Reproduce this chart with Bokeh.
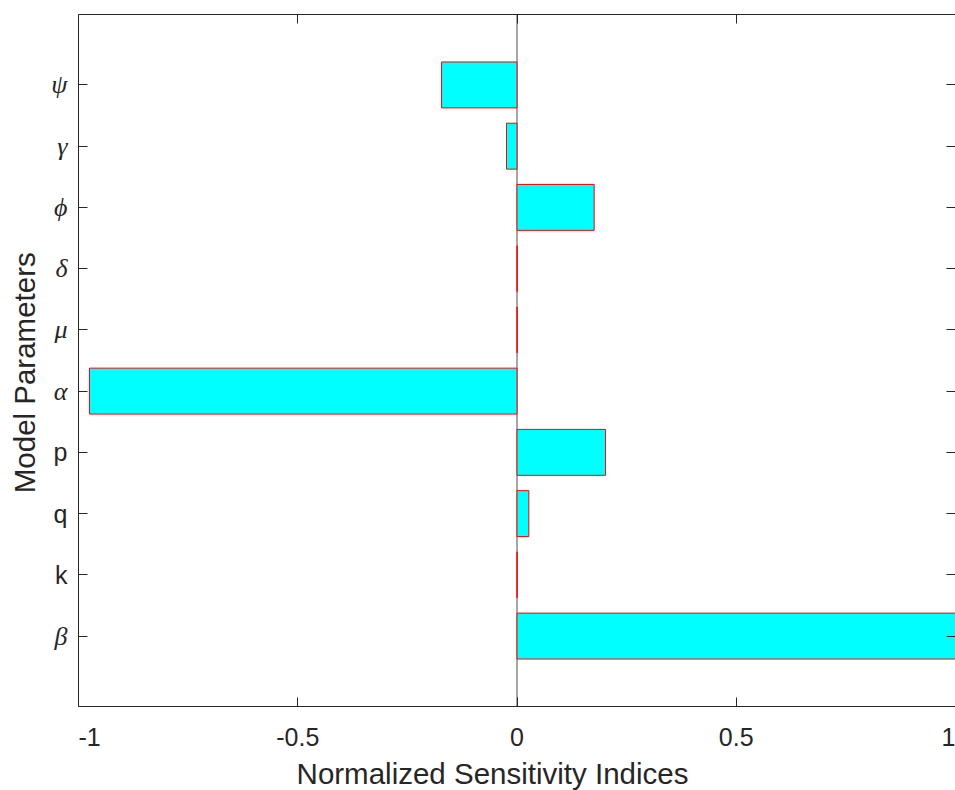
from math import pi

from bokeh.plotting import figure
from bokeh.layouts import row, column
from bokeh.models import (ColumnDataSource, LinearAxis, FixedTicker, Span,
                          Range1d)
from bokeh.core.properties import value
from bokeh.embed import file_html
from bokeh.resources import INLINE

# Parameters listed bottom to top, with their normalized sensitivity indices
params = ["β", "k", "q", "p", "α", "μ", "δ", "ϕ", "γ", "ψ"]
indices = [1.0, 0.0004, 0.027, 0.202, -0.975, 0.0005, 0.0006, 0.176, -0.024, -0.172]
x_ticks = [-1, -0.5, 0, 0.5, 1]
x_tick_labels = ["-1", "-0.5", "0", "0.5", "1"]
x_title = "Normalized Sensitivity Indices"
y_title = "Model Parameters"

positions = list(range(1, len(params) + 1))

INK = "#262626"
W_NAMES, W_MAIN = 78, 877
H_MAIN, H_TITLE = 756, 34
TOP, BOTTOM = 14, 50
y_range = Range1d(-0.15, len(params) + 1.15)


def bare(fig):
    fig.xgrid.visible = False
    fig.ygrid.visible = False
    fig.outline_line_color = None
    fig.background_fill_color = "white"
    fig.border_fill_color = "white"
    return fig


# ---- main axes -------------------------------------------------------------
p = bare(figure(width=W_MAIN, height=H_MAIN, output_backend="svg",
                toolbar_location=None, x_range=Range1d(-1, 1), y_range=y_range,
                min_border_left=0, min_border_right=0, min_border_top=TOP,
                min_border_bottom=BOTTOM, x_axis_location=None,
                y_axis_location=None))

# zero baseline
p.add_layout(Span(location=0, dimension="height", line_color="#4d4d4d",
                  line_width=1, level="underlay"))

src = ColumnDataSource(dict(y=positions, v=indices, name=params))
p.hbar(y="y", left=0, right="v", height=0.75, source=src,
       fill_color="#00FFFF", line_color="#FF0000", line_width=1)


def frame_axis(ticks, spine=True):
    ax = LinearAxis(ticker=FixedTicker(ticks=ticks))
    ax.major_tick_in = 9
    ax.major_tick_out = 0
    ax.minor_tick_line_color = None
    ax.axis_line_color = INK if spine else None
    ax.major_tick_line_color = INK
    return ax


def tick_only(ax, ticks):
    # tick marks without printed labels
    ax.major_label_overrides = {t: "" for t in ticks}
    ax.major_label_text_font_size = "1px"
    ax.major_label_text_color = None
    ax.major_label_standoff = 0
    return ax


# bottom axis with labels
xb = frame_axis(x_ticks)
xb.major_label_overrides = {t: s for t, s in zip(x_ticks, x_tick_labels)}
xb.major_label_text_font = "Liberation Sans"
xb.major_label_text_font_size = "25px"
xb.major_label_text_color = INK
xb.major_label_standoff = 21
p.add_layout(xb, "below")

p.add_layout(tick_only(frame_axis(x_ticks), x_ticks), "above")
p.add_layout(tick_only(frame_axis(positions), positions), "left")
p.add_layout(tick_only(frame_axis(positions, spine=False), positions), "right")

# ---- parameter names and y title in a strip to the left --------------------
names = bare(figure(width=W_NAMES, height=H_MAIN, output_backend="svg",
                    toolbar_location=None, x_range=Range1d(0, W_NAMES),
                    y_range=y_range, min_border_left=0, min_border_right=0,
                    min_border_top=TOP, min_border_bottom=BOTTOM,
                    x_axis_location=None, y_axis_location=None))

sym_y = [y for y, n in zip(positions, params) if not n.isascii()]
sym_n = [n for n in params if not n.isascii()]
lat_y = [y for y, n in zip(positions, params) if n.isascii()]
lat_n = [n for n in params if n.isascii()]

# Greek symbols in italic serif, Latin letters upright sans
names.text(x=67, y=sym_y, text=sym_n, text_align="right",
           text_baseline="middle", text_font=value("Liberation Serif"),
           text_font_style="italic", text_font_size="26px", text_color=INK)
names.text(x=67, y=lat_y, text=lat_n, text_align="right",
           text_baseline="middle", text_font=value("Liberation Sans"),
           text_font_size="25px", text_color=INK)
names.text(x=[24], y=[5.3], text=[y_title], angle=pi / 2,
           text_align="center", text_baseline="middle",
           text_font=value("Liberation Sans"), text_font_size="29.5px",
           text_color=INK)

# ---- x title strip below ---------------------------------------------------
W_ALL = W_NAMES + W_MAIN
xt = bare(figure(width=W_ALL, height=H_TITLE, output_backend="svg",
                 toolbar_location=None, x_range=Range1d(0, W_ALL),
                 y_range=Range1d(0, H_TITLE), min_border=0,
                 x_axis_location=None, y_axis_location=None))
xt.text(x=[492], y=[17.5], text=[x_title], text_align="center",
        text_baseline="middle", text_font=value("Liberation Sans"),
        text_font_size="29.5px", text_color=INK)

layout = column(row(names, p), xt)
open("out.html", "w").write(file_html(layout, INLINE))
